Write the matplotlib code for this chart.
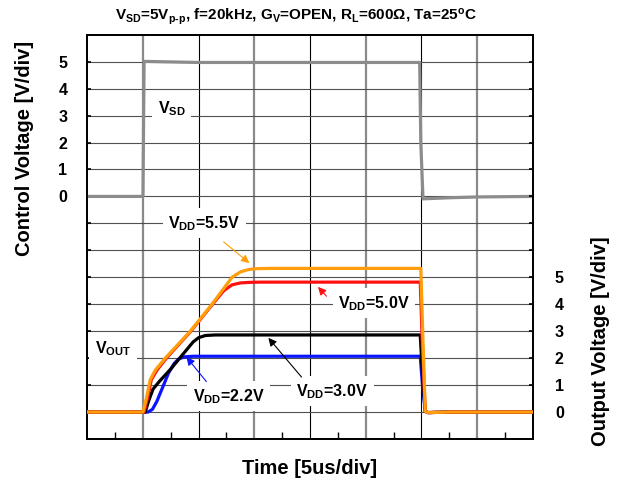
import numpy as np
import matplotlib
matplotlib.use("Agg")
import matplotlib.pyplot as plt

plt.rcParams['font.family'] = ['Liberation Sans', 'DejaVu Sans']
plt.rcParams['font.weight'] = 'bold'
plt.rcParams['mathtext.fontset'] = 'custom'
plt.rcParams['mathtext.rm'] = 'Liberation Sans:bold'
plt.rcParams['mathtext.it'] = 'Liberation Sans:bold'
plt.rcParams['mathtext.bf'] = 'Liberation Sans:bold'
plt.rcParams['mathtext.default'] = 'rm'

# time in divisions, voltages in V (1 V/div)
t_sd = [0, 1.0, 1.02, 1.5, 2.0, 4.0, 5.97, 5.99, 6.03, 6.5, 7.0, 8.0]
v_sd = [0, 0, 5.01, 4.99, 4.97, 4.97, 4.97, 2.0, -0.09, -0.05, -0.02, 0.0]

t_22 = [0, 1.09, 1.17, 1.25, 1.35, 1.46, 1.56, 1.64, 1.75, 1.9, 5.98, 6.02, 6.07, 6.12, 6.5, 8.0]
v_22 = [0, 0, 0.1, 0.4, 0.9, 1.45, 1.8, 1.97, 2.05, 2.07, 2.07, 1.0, 0.03, -0.02, 0.0, 0.0]

t_30 = [0, 1.04, 1.1, 1.18, 1.3, 1.5, 1.7, 1.9, 2.0, 2.12, 2.3, 5.98, 6.02, 6.07, 6.12, 6.5, 8.0]
v_30 = [0, 0, 0.4, 0.85, 1.15, 1.6, 2.1, 2.6, 2.76, 2.84, 2.86, 2.86, 1.4, 0.03, -0.02, 0.0, 0.0]

t_50 = [0, 1.02, 1.08, 1.15, 1.25, 1.42, 1.86, 2.25, 2.45, 2.6, 2.75, 2.9, 3.1, 5.98, 6.02, 6.07, 6.12, 6.5, 8.0]
v_50 = [0, 0, 0.5, 1.2, 1.55, 2.0, 3.0, 4.0, 4.5, 4.72, 4.79, 4.81, 4.82, 4.82, 2.4, 0.03, -0.02, 0.0, 0.0]

t_55 = [0, 1.0, 1.06, 1.13, 1.22, 1.40, 1.85, 2.24, 2.60, 2.75, 2.9, 3.05, 3.3, 5.99, 6.03, 6.07, 6.12, 6.5, 8.0]
v_55 = [0, 0, 0.5, 1.2, 1.55, 2.0, 3.0, 4.0, 5.0, 5.2, 5.29, 5.32, 5.33, 5.33, 2.6, 0.03, -0.02, 0.0, 0.0]

fig = plt.figure(figsize=(6.26, 4.84), dpi=100)
ax = fig.add_axes([87.3 / 626, 1 - 439 / 484, 445.4 / 626, 404.3 / 484])
ax.set_xlim(0, 8)
ax.set_ylim(-9, 6)
ax2 = ax.twinx()
ax2.set_ylim(-1, 14)

# scope grid
for x in range(1, 8):
    if x % 2:
        ax.axvline(x, color='#8a8a8a', lw=1.6, zorder=0)
    else:
        ax.axvline(x, color='black', lw=0.8, zorder=0)
for y in range(-8, 6):
    ax.axhline(y, color='#505050', lw=0.8, zorder=0)

ax.set_xticks([])
ax.set_xticks(np.arange(0.5, 8, 1), minor=True)
ax.tick_params(axis='x', which='minor', direction='in', length=5, width=1, bottom=True)

yt = list(range(-8, 6))
ax.set_yticks(yt)
ax.set_yticklabels([str(v) if v >= 0 else '' for v in yt], fontsize=11.5, fontweight='bold')
ax.tick_params(axis='y', direction='in', length=3, width=1.2, pad=16)
for lab in ax.get_yticklabels():
    lab.set_horizontalalignment('center')
    lab.set_x(-0.005)

yt2 = list(range(0, 14))
ax2.set_yticks(yt2)
ax2.set_yticklabels([str(v) if v <= 5 else '' for v in yt2], fontsize=11.5, fontweight='bold')
ax2.tick_params(axis='y', direction='in', length=3, width=1.2, pad=16)

for a in (ax, ax2):
    for s in a.spines.values():
        s.set_linewidth(1.3)

# traces
ax.plot(t_sd, v_sd, color='#8c8c8c', lw=2.3, zorder=3)
ax2.plot(t_22, v_22, color='#0a14ff', lw=2.3, zorder=3)
ax2.plot(t_30, v_30, color='black', lw=2.3, zorder=3)
ax2.plot(t_50, v_50, color='#ff1010', lw=2.3, zorder=3)
ax2.plot(t_55, v_55, color='#ff9e0a', lw=2.3, zorder=3)

box = dict(facecolor='white', edgecolor='none', pad=4)
fs = 11.5
ax.text(1.52, 3.26, '$V_{SD}$', fontsize=fs, ha='center', va='center', bbox=box, zorder=4)
ax2.text(0.46, 2.37, '$V_{OUT}$', fontsize=fs, ha='center', va='center', bbox=box, zorder=4)

labels = [
    ('$V_{DD}$=5.5V', 2.10, 7.0, (2.41, 6.38), (2.95, 5.46), '#ff9e0a'),
    ('$V_{DD}$=5.0V', 5.15, 4.04, (4.33, 4.22), (4.11, 4.72), '#ff1010'),
    ('$V_{DD}$=3.0V', 4.40, 0.77, (3.88, 1.22), (3.22, 2.83), 'black'),
    ('$V_{DD}$=2.2V', 2.54, 0.58, (2.17, 1.05), (1.75, 2.12), '#0a14ff'),
]
for txt, x, y, tail, head, c in labels:
    ax2.text(x, y, txt, fontsize=fs, ha='center', va='center', bbox=box, zorder=4)
    ax2.annotate('', xy=head, xytext=tail,
                 arrowprops=dict(arrowstyle='-|>', color=c, lw=0.8, mutation_scale=12),
                 zorder=5)

fig.text(296 / 626, 1 - 17 / 484,
         '$V_{SD}$=5V$_{p\\text{-}p}$, f=20kHz, $G_{V}$=OPEN, $R_{L}$=600\u03a9, Ta=25$^{o}$C',
         fontsize=11, ha='center', va='center')
fig.text(25 / 626, 1 - 148 / 484, 'Control Voltage [V/div]', rotation=90,
         fontsize=14.5, ha='center', va='center')
fig.text(600 / 626, 1 - 341 / 484, 'Output Voltage [V/div]', rotation=90,
         fontsize=14.5, ha='center', va='center')
fig.text(310 / 626, 1 - 468 / 484, 'Time [5us/div]', fontsize=14.5, ha='center', va='center')

fig.savefig('out.png', dpi=100)
